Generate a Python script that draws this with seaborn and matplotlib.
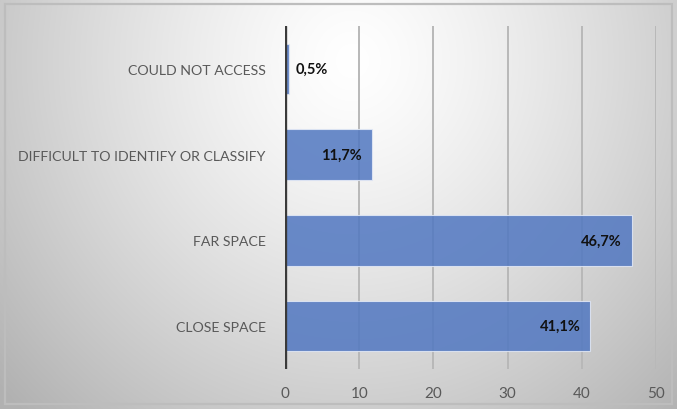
import numpy as np
import pandas as pd
import matplotlib
matplotlib.use("Agg")
import matplotlib.pyplot as plt
import seaborn as sns
from matplotlib.patches import Rectangle

categories = ["COULD NOT ACCESS", "DIFFICULT TO IDENTIFY OR CLASSIFY", "FAR SPACE", "CLOSE SPACE"]
values = [0.5, 11.7, 46.7, 41.1]
value_labels = ["0,5%", "11,7%", "46,7%", "41,1%"]
x_ticks = [0, 10, 20, 30, 40, 50]

df = pd.DataFrame({"category": categories, "value": values})

sns.set_theme(style="white")
plt.rcParams["font.family"] = ["Lato", "DejaVu Sans"]

fig = plt.figure(figsize=(6.77, 4.10), dpi=100)

# radial grey background, light near the top centre
bg = fig.add_axes([0, 0, 1, 1], zorder=0)
h, w = 410, 677
yy, xx = np.mgrid[0:h, 0:w]
cx, cy = 0.52 * w, 0.15 * h
r = np.sqrt(((xx - cx) / (0.58 * w)) ** 2 + ((yy - cy) / (1.0 * h)) ** 2)
shade = 1.0 - 0.24 * np.clip(r, 0, 1.2) ** 1.3
img = np.dstack([shade, shade, shade])
bg.imshow(img, extent=[0, 1, 0, 1], aspect="auto", origin="upper")
bg.set_axis_off()
bg.add_patch(Rectangle((0.007, 0.012), 0.986, 0.976, fill=False,
                       edgecolor="#bdbdbd", linewidth=1.6, transform=bg.transAxes))

ax = fig.add_axes([0.421, 0.0976, 0.548, 0.836], zorder=1)
ax.patch.set_alpha(0)

sns.barplot(data=df, x="value", y="category", order=categories, orient="h",
            color="#3f72d4", alpha=0.86, width=0.59, edgecolor="#e3e9f6",
            linewidth=0.8, ax=ax, zorder=3)

ax.set_xlim(0, 50)
ax.set_ylim(3.5, -0.5)
ax.set_xticks(x_ticks)
ax.set_xticklabels([str(t) for t in x_ticks])
for t in x_ticks[1:]:
    ax.axvline(t, color="#b8b8b8", linewidth=1.4, zorder=1)
ax.axvline(0, color="#3a3a3a", linewidth=2.4, zorder=4)

for s in ax.spines.values():
    s.set_visible(False)
ax.set_xlabel("")
ax.set_ylabel("")
ax.tick_params(axis="both", length=0, colors="#595959", labelsize=11)
ax.tick_params(axis="x", pad=12)
ax.tick_params(axis="y", pad=14)
for lab in ax.get_yticklabels():
    lab.set_fontsize(10.2)

for i, (v, lab) in enumerate(zip(values, value_labels)):
    if v < 5:
        ax.text(v + 0.9, i, lab, ha="left", va="center", fontsize=10.5,
                fontweight="bold", color="#111111", zorder=5)
    else:
        ax.text(v - 1.3, i, lab, ha="right", va="center", fontsize=10.5,
                fontweight="bold", color="#111111", zorder=5)

fig.savefig("out.png", dpi=100)
